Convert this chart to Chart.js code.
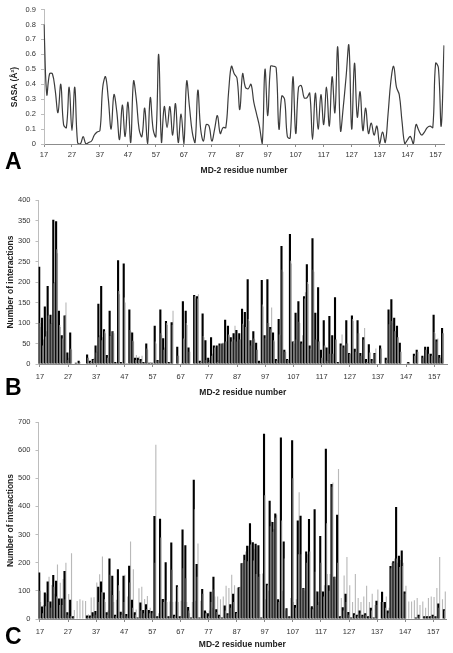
<!DOCTYPE html>
<html>
<head>
<meta charset="utf-8">
<script src="https://cdn.jsdelivr.net/npm/chart.js@4.4.1/dist/chart.umd.min.js"></script>
<style>
html, body { margin: 0; padding: 0; background: #fff; }
#fig { position: relative; width: 453px; height: 653px; overflow: hidden; font-family: "Liberation Sans", Arial, sans-serif; }
canvas { position: absolute; left: 0; }
.panel { position: absolute; left: 5px; font-size: 23px; font-weight: bold; line-height: 24px; color: #000; }
.ytitle { position: absolute; transform: translate(-50%, -50%) rotate(-90deg); font-size: 8.5px; font-weight: bold; color: #222; white-space: nowrap; }
</style>
</head>
<body>
<div id="fig">
	<canvas id="chartA" width="453" height="182" style="top:0px"></canvas>
	<canvas id="chartB" width="453" height="212" style="top:190px"></canvas>
	<canvas id="chartC" width="453" height="248" style="top:405px"></canvas>
	<div class="ytitle" style="left:13.5px; top:87px">SASA (Å²)</div>
	<div class="panel" style="top:149px">A</div>
	<div class="panel" style="top:375px">B</div>
	<div class="panel" style="top:624px">C</div>
</div>
<script>
// residue numbers (category axis)
const residues = [
	17, 18, 19, 20, 21, 22, 23, 24, 25, 26, 27, 28, 29, 30, 31, 32, 33, 34, 35, 36,
	37, 38, 39, 40, 41, 42, 43, 44, 45, 46, 47, 48, 49, 50, 51, 52, 53, 54, 55, 56,
	57, 58, 59, 60, 61, 62, 63, 64, 65, 66, 67, 68, 69, 70, 71, 72, 73, 74, 75, 76,
	77, 78, 79, 80, 81, 82, 83, 84, 85, 86, 87, 88, 89, 90, 91, 92, 93, 94, 95, 96,
	97, 98, 99, 100, 101, 102, 103, 104, 105, 106, 107, 108, 109, 110, 111, 112, 113, 114, 115, 116,
	117, 118, 119, 120, 121, 122, 123, 124, 125, 126, 127, 128, 129, 130, 131, 132, 133, 134, 135, 136,
	137, 138, 139, 140, 141, 142, 143, 144, 145, 146, 147, 148, 149, 150, 151, 152, 153, 154, 155, 156,
	157, 158, 159, 160, 161,
]
const sasaResidues = residues.slice(0, 144) // 17..160

// panel A: SASA per residue
const sasa = [
	0.80, 0.33, 0.47, 0.47, 0.36, 0.21, 0.40, 0.13, 0.11, 0.38,
	0.09, 0.38, 0.01, 0.00, 0.05, 0.00, 0.01, 0.02, 0.06, 0.08,
	0.09, 0.38, 0.45, 0.30, 0.10, 0.33, 0.22, 0.03, 0.26, 0.05,
	0.28, 0.01, 0.42, 0.30, 0.10, 0.05, 0.24, 0.00, 0.31, 0.10,
	0.05, 0.60, 0.01, 0.25, 0.11, 0.25, 0.06, 0.27, 0.01, 0.20,
	0.00, 0.42, 0.25, 0.08, 0.01, 0.36, 0.10, 0.02, 0.13, 0.12,
	0.02, 0.10, 0.19, 0.07, 0.11, 0.11, 0.35, 0.52, 0.47, 0.44,
	0.23, 0.47, 0.38, 0.37, 0.40, 0.28, 0.20, 0.12, 0.00, 0.50,
	0.19, 0.52, 0.52, 0.51, 0.10, 0.32, 0.30, 0.05, 0.04, 0.45,
	0.07, 0.38, 0.39, 0.31, 0.31, 0.34, 0.03, 0.34, 0.10, 0.33,
	0.13, 0.38, 0.12, 0.45, 0.21, 0.65, 0.09, 0.25, 0.45, 0.66,
	0.10, 0.54, 0.18, 0.35, 0.09, 0.24, 0.07, 0.14, 0.06, 0.12,
	0.00, 0.08, 0.01, 0.20, 0.42, 0.52, 0.38, 0.33, 0.15, 0.00,
	0.03, 0.05, 0.00, 0.13, 0.09, 0.06, 0.08, 0.11, 0.12, 0.11,
	0.54, 0.51, 0.12, 0.66,
]

// panel B: number of interactions
const bBlack = [
	237, 113, 140, 190, 120, 352, 348, 130, 70, 118,
	28, 77, 0, 3, 8, 0, 0, 23, 8, 12,
	45, 147, 190, 85, 22, 130, 80, 5, 253, 5,
	245, 2, 133, 77, 15, 15, 12, 5, 50, 3,
	3, 93, 10, 133, 63, 105, 5, 102, 0, 42,
	0, 153, 130, 40, 0, 168, 165, 8, 123, 58,
	15, 65, 45, 45, 50, 50, 108, 93, 65, 75,
	83, 75, 135, 127, 207, 58, 80, 52, 8, 205,
	70, 207, 90, 77, 12, 110, 288, 35, 12, 317,
	55, 125, 153, 55, 165, 243, 45, 307, 125, 187,
	35, 107, 40, 117, 70, 163, 5, 50, 45, 107,
	27, 118, 37, 107, 27, 65, 12, 48, 12, 27,
	0, 45, 0, 15, 133, 158, 113, 93, 52, 0,
	0, 5, 0, 25, 35, 0, 20, 42, 42, 25,
	120, 60, 22, 88, 0,
]
const bGray = [
	100, 45, 67, 118, 98, 197, 280, 95, 62, 118,
	10, 37, 0, 0, 3, 0, 0, 15, 5, 10,
	28, 65, 58, 80, 15, 68, 80, 2, 178, 3,
	162, 0, 83, 57, 10, 10, 8, 3, 38, 2,
	2, 55, 8, 75, 35, 100, 3, 95, 0, 20,
	0, 62, 100, 30, 0, 165, 160, 5, 68, 10,
	5, 20, 40, 5, 45, 52, 55, 72, 55, 60,
	55, 60, 98, 90, 110, 45, 62, 35, 3, 145,
	63, 100, 85, 58, 8, 72, 230, 30, 10, 252,
	55, 60, 103, 50, 160, 200, 38, 230, 60, 55,
	15, 45, 8, 25, 25, 60, 3, 45, 40, 50,
	25, 110, 30, 75, 20, 60, 5, 28, 8, 25,
	0, 38, 0, 10, 97, 105, 80, 65, 30, 0,
	0, 3, 0, 20, 30, 0, 15, 35, 25, 20,
	78, 55, 15, 75, 0,
]
const bLight = [
	90, 60, 80, 110, 100, 200, 270, 90, 60, 150,
	15, 35, 0, 2, 5, 0, 0, 15, 5, 15,
	30, 70, 65, 75, 15, 70, 75, 3, 170, 3,
	150, 2, 80, 55, 22, 18, 20, 3, 35, 5,
	2, 50, 8, 70, 40, 95, 5, 130, 0, 20,
	3, 60, 95, 30, 0, 160, 170, 5, 65, 15,
	10, 25, 40, 10, 45, 50, 55, 70, 55, 93,
	55, 60, 95, 90, 105, 45, 60, 35, 5, 140,
	60, 100, 138, 55, 10, 70, 225, 30, 10, 245,
	50, 60, 100, 70, 175, 195, 35, 225, 60, 55,
	15, 45, 10, 25, 25, 60, 3, 72, 40, 50,
	25, 105, 30, 75, 20, 88, 5, 28, 8, 38,
	0, 38, 0, 10, 95, 100, 80, 65, 30, 0,
	3, 3, 0, 20, 30, 0, 15, 35, 25, 20,
	75, 62, 15, 75, 0,
]

// panel C: number of interactions
const cBlack = [
	165, 44, 94, 133, 62, 156, 136, 73, 73, 171,
	24, 68, 10, 0, 0, 0, 0, 12, 12, 24,
	28, 115, 133, 94, 24, 215, 154, 15, 177, 26,
	154, 18, 189, 68, 24, 5, 59, 32, 52, 32,
	28, 366, 10, 356, 71, 202, 10, 272, 15, 120,
	10, 318, 262, 43, 5, 495, 195, 5, 107, 30,
	20, 97, 150, 35, 15, 5, 48, 20, 52, 90,
	25, 113, 198, 228, 260, 340, 273, 267, 262, 5,
	658, 125, 420, 345, 375, 70, 645, 275, 38, 10,
	635, 50, 350, 367, 110, 240, 355, 45, 390, 98,
	295, 98, 605, 120, 480, 150, 370, 10, 42, 90,
	25, 5, 20, 15, 30, 15, 20, 10, 40, 5,
	65, 0, 97, 60, 30, 188, 205, 398, 225, 243,
	98, 0, 0, 0, 5, 15, 0, 10, 10, 10,
	15, 10, 55, 0, 35,
]
const cGray = [
	100, 20, 45, 60, 40, 115, 80, 50, 50, 70,
	15, 10, 5, 0, 0, 0, 0, 5, 5, 10,
	15, 60, 95, 70, 15, 157, 85, 10, 120, 15,
	60, 10, 130, 40, 15, 3, 30, 20, 35, 20,
	20, 200, 5, 290, 60, 67, 5, 175, 10, 115,
	5, 180, 145, 30, 3, 390, 150, 3, 90, 20,
	10, 60, 105, 25, 10, 3, 30, 15, 40, 60,
	20, 110, 195, 210, 205, 265, 208, 160, 150, 3,
	440, 120, 330, 310, 360, 60, 350, 215, 35, 5,
	500, 40, 230, 230, 108, 200, 240, 35, 168, 50,
	200, 80, 340, 100, 470, 150, 200, 5, 30, 60,
	15, 3, 15, 10, 20, 10, 15, 5, 30, 3,
	50, 0, 60, 40, 20, 180, 200, 215, 185, 188,
	90, 0, 0, 0, 3, 10, 0, 5, 5, 5,
	10, 5, 40, 0, 30,
]
const cLight = [
	60, 50, 90, 150, 121, 90, 194, 129, 142, 200,
	89, 234, 32, 64, 70, 66, 64, 17, 76, 77,
	130, 159, 222, 60, 30, 100, 60, 68, 100, 20,
	157, 80, 275, 177, 34, 109, 115, 71, 82, 40,
	30, 619, 20, 70, 70, 60, 62, 60, 62, 60,
	65, 60, 60, 20, 60, 65, 268, 65, 30, 25,
	30, 40, 80, 80, 70, 80, 118, 110, 157, 120,
	110, 115, 200, 240, 260, 280, 250, 260, 160, 162,
	70, 100, 350, 320, 370, 65, 100, 30, 10, 75,
	60, 70, 450, 110, 100, 230, 40, 40, 100, 60,
	100, 120, 160, 160, 485, 140, 533, 75, 155, 220,
	120, 60, 160, 75, 60, 80, 118, 60, 90, 50,
	105, 60, 60, 80, 40, 200, 215, 200, 210, 200,
	118, 62, 62, 67, 75, 50, 62, 40, 75, 80,
	78, 110, 220, 70, 98,
]

Chart.defaults.font.family = '"Liberation Sans", Arial, sans-serif'
Chart.defaults.font.size = 7.5
Chart.defaults.color = '#333'
Chart.defaults.animation = false

const titleFont = { size: 8.5, weight: 'bold' }

function xAxis(offset, height, labelPad, titlePad) {
	return {
		type: 'category',
		offset: offset,
		grid: { drawOnChartArea: false, offset: false, tickLength: 3, color: '#8c8c8c' },
		border: { color: '#8c8c8c' },
		ticks: {
			autoSkip: false,
			maxRotation: 0,
			padding: labelPad,
			callback: function (val) {
				const r = this.getLabelForValue(val)
				return (r - 17) % 10 === 0 ? String(r) : null
			},
		},
		title: { display: true, text: 'MD-2 residue number', font: titleFont, color: '#222', padding: { top: 0, bottom: titlePad } },
		afterFit: (s) => { s.height = height },
	}
}

function yAxis(max, step, width, title) {
	return {
		min: 0,
		max: max,
		ticks: { stepSize: step, padding: 5 },
		grid: { drawOnChartArea: false, tickLength: 3, color: '#bdbdbd' },
		border: { color: '#bdbdbd' },
		title: title
			? { display: true, text: title, font: titleFont, color: '#222', padding: { top: 6, bottom: 0 } }
			: { display: false },
		afterFit: (s) => { s.width = width },
	}
}

function barSets(black, gray, light) {
	return [
		{ data: black, backgroundColor: '#000', barPercentage: 1.5, categoryPercentage: 1, order: 2 },
		{ data: light, backgroundColor: '#b9b9b9', barPercentage: 0.8, categoryPercentage: 1, order: 3 },
		{ data: gray, backgroundColor: '#7b7b7b', grouped: false, barPercentage: 0.4, categoryPercentage: 1, order: 1 },
	]
}

const common = {
	responsive: false,
	devicePixelRatio: 1,
	animation: false,
	plugins: { legend: { display: false }, tooltip: { enabled: false } },
}

new Chart(document.getElementById('chartA'), {
	type: 'line',
	data: {
		labels: sasaResidues,
		datasets: [{ data: sasa, borderColor: '#3c3c3c', borderWidth: 1.2, pointRadius: 0, tension: 0.4, fill: false }],
	},
	options: Object.assign({}, common, {
		layout: { padding: { top: 6, right: 9, left: 0, bottom: 0 } },
		scales: { x: xAxis(false, 38, 3, 6), y: yAxis(0.9, 0.1, 44, null) },
	}),
})

new Chart(document.getElementById('chartB'), {
	type: 'bar',
	data: { labels: residues, datasets: barSets(bBlack, bGray, bLight) },
	options: Object.assign({}, common, {
		layout: { padding: { top: 10, right: 6, left: 0, bottom: 0 } },
		scales: { x: xAxis(true, 38, 5, 4), y: yAxis(400, 50, 38.5, 'Number of interactions') },
	}),
})

new Chart(document.getElementById('chartC'), {
	type: 'bar',
	data: { labels: residues, datasets: barSets(cBlack, cGray, cLight) },
	options: Object.assign({}, common, {
		layout: { padding: { top: 17, right: 7, left: 0, bottom: 0 } },
		scales: { x: xAxis(true, 34, 5, 3), y: yAxis(700, 100, 38.5, 'Number of interactions') },
	}),
})
</script>
</body>
</html>
